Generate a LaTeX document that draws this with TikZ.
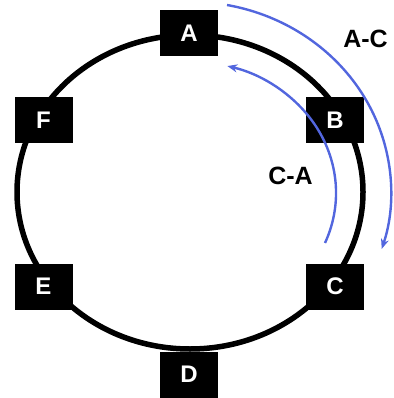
\documentclass[tikz,border=0pt]{standalone}
\usepackage{fontspec}
\setmainfont{Liberation Sans}
\usetikzlibrary{arrows.meta}
\definecolor{arcblue}{RGB}{82,102,222}
\tikzset{
  station/.style={fill=black, draw=none, minimum width=58pt, minimum height=46pt, inner sep=0pt,
    text=white, font=\fontsize{24}{28}\selectfont\bfseries},
  lbl/.style={font=\fontsize{25}{29}\selectfont\bfseries, text=black, inner sep=0pt},
  ring/.style={line width=5.5pt, draw=black},
  flow/.style={draw=arcblue, line width=2.4pt, -{Stealth[length=10pt,width=8pt]}}
}
\begin{document}
\begin{tikzpicture}[x=1pt,y=-1pt]
\useasboundingbox (0,0) rectangle (393,398);
\coordinate (ctr) at (190,192);
\draw[ring] (ctr) ellipse [x radius=173pt, y radius=157pt];
\node[station] (A) at (189,33) {A};
\node[station] (B) at (335,120.5) {B};
\node[station] (C) at (335,286.5) {C};
\node[station] (D) at (189,374.5) {D};
\node[station] (E) at (43.5,286.5) {E};
\node[station] (F) at (43.5,120.5) {F};
\coordinate (acstart) at (227,5);
\coordinate (castart) at (325,243);
\draw[flow] (acstart) arc[x radius=201pt, y radius=190pt, start angle=79.4, end angle=-17.5];
\draw[flow] (castart) arc[x radius=145pt, y radius=131pt, start angle=-22.5, end angle=75.5];
\node[lbl] (lac) at (365.5,38.5) {A-C};
\node[lbl] (lca) at (290.5,176) {C-A};
\end{tikzpicture}
\end{document}
